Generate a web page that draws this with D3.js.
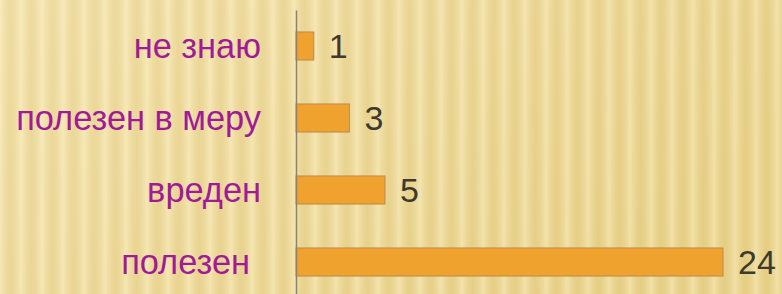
<!DOCTYPE html>
<html>
<head>
<meta charset="utf-8">
<script src="https://cdn.jsdelivr.net/npm/d3@7"></script>
<style>
  html, body { margin: 0; padding: 0; }
  body { width: 782px; height: 294px; overflow: hidden; }
  svg { display: block; }
</style>
</head>
<body>
<svg id="chart" width="782" height="294"></svg>
<script>
// chart data, top to bottom
const categories = ["не знаю", "полезен в меру", "вреден", "полезен"];
const counts = [1, 3, 5, 24];

const width = 782;
const height = 294;
const margin = { top: 10, left: 296 };

const svg = d3.select("#chart");
const defs = svg.append("defs");

// background: warm gold fade with soft vertical stripes
const bgGrad = defs.append("linearGradient")
  .attr("id", "bg-grad")
  .attr("x1", "0").attr("y1", "0").attr("x2", "1").attr("y2", "0.4");
bgGrad.append("stop").attr("offset", "0%").attr("stop-color", "#f4e4b1");
bgGrad.append("stop").attr("offset", "50%").attr("stop-color", "#eedb9e");
bgGrad.append("stop").attr("offset", "100%").attr("stop-color", "#e9d38c");

const stripeGrad = defs.append("linearGradient")
  .attr("id", "stripe-grad")
  .attr("x1", "0").attr("x2", "1").attr("y1", "0").attr("y2", "0");
stripeGrad.append("stop").attr("offset", "0%").attr("stop-color", "#fff6d0").attr("stop-opacity", 0.4);
stripeGrad.append("stop").attr("offset", "50%").attr("stop-color", "#d6b964").attr("stop-opacity", 0.22);
stripeGrad.append("stop").attr("offset", "100%").attr("stop-color", "#fff6d0").attr("stop-opacity", 0.4);

defs.append("pattern")
  .attr("id", "stripes")
  .attr("patternUnits", "userSpaceOnUse")
  .attr("width", 21).attr("height", height)
  .append("rect")
    .attr("width", 21).attr("height", height)
    .attr("fill", "url(#stripe-grad)");

svg.append("rect")
  .attr("width", width).attr("height", height)
  .attr("fill", "url(#bg-grad)");
svg.append("rect")
  .attr("width", width).attr("height", height)
  .attr("fill", "url(#stripes)");

// scales
const xScale = d3.scaleLinear()
  .domain([0, 24])
  .range([margin.left, 723]);

const yScale = d3.scaleBand()
  .domain(categories)
  .range([margin.top, 298])
  .paddingInner(0.61)
  .paddingOuter(0.305);

const data = categories.map((c, i) => ({ category: c, count: counts[i] }));
const mid = d => yScale(d.category) + yScale.bandwidth() / 2;

// bars
svg.append("g")
  .selectAll("rect")
  .data(data)
  .join("rect")
    .attr("x", xScale(0))
    .attr("y", d => yScale(d.category))
    .attr("width", d => xScale(d.count) - xScale(0))
    .attr("height", yScale.bandwidth())
    .attr("fill", "#f0a22e")
    .attr("stroke", "#b88d52")
    .attr("stroke-width", 1);

// category labels (a bit condensed, as in the original)
svg.append("g")
  .selectAll("text")
  .data(data)
  .join("text")
    .attr("transform", d => `translate(${d.category === "полезен" ? 250 : 261},${mid(d) + 12}) scale(0.955,1)`)
    .attr("text-anchor", "end")
    .attr("font-family", "Liberation Sans, Arial, sans-serif")
    .attr("font-size", 36)
    .attr("fill", "#a01b95")
    .text(d => d.category);

// value labels
svg.append("g")
  .selectAll("text")
  .data(data)
  .join("text")
    .attr("x", d => xScale(d.count) + 15)
    .attr("y", d => mid(d) + 12)
    .attr("font-family", "Liberation Sans, Arial, sans-serif")
    .attr("font-size", 34)
    .attr("fill", "#3f3a2e")
    .text(d => d.count);

// vertical category axis, no ticks or labels
const leftAxis = d3.axisLeft(yScale).tickSize(0).tickFormat("");
svg.append("g")
  .attr("class", "axis-y")
  .attr("transform", `translate(${margin.left},0)`)
  .call(leftAxis)
  .call(g => g.select(".domain")
    .attr("stroke", "#8a8478")
    .attr("stroke-width", 1.5));
</script>
</body>
</html>
